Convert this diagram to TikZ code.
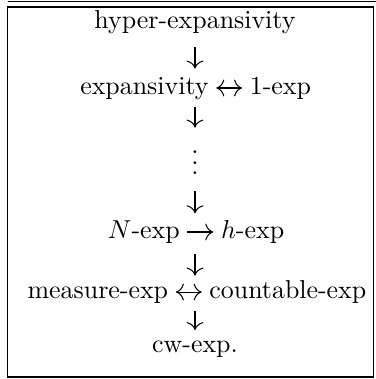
\documentclass[tikz,border=0pt]{standalone}
\usepackage{tikz}
\usetikzlibrary{arrows.meta, positioning}
\tikzset{
  row/.style={inner sep=0pt, text height=6.94pt, text depth=1.94pt},
  varr/.style={-{To[scale=1.25]}, line width=0.4pt},
  rarr/.style={-{To[scale=1.25]}, line width=0.4pt, shorten <=2.78pt, shorten >=2.78pt},
  lrarr/.style={{To[scale=1.25]}-{To[scale=1.25]}, line width=0.4pt, shorten <=2.78pt, shorten >=2.78pt},
  frame/.style={line width=0.5pt, color=black}
}

\begin{document}
\begin{tikzpicture}
  \useasboundingbox (0,0) rectangle (5.102,5.143);

  % Frame
  \draw[frame] (0.102,5.122) -- (5.102,5.122);
  \draw[frame] (0.102,0.027) rectangle (5.068,5.048);

  % Rows
  \node[row] (hyper) at (2.646,4.844) {hyper-expansivity};

  \node[row, anchor=west] (exp) at ([xshift=-44.48pt]2.646,3.949) {expansivity};
  \node[row, right=15.56pt of exp] (oneexp) {1-exp};
  \draw[lrarr] (exp) -- (oneexp);

  \node[anchor=south, inner sep=0pt] (dots) at (2.646,2.768) {$\vdots$};

  \node[row, anchor=west] (nexp) at ([xshift=-33.83pt]2.646,1.995) {$N$-exp};
  \node[row, right=15.56pt of nexp] (hexp) {$h$-exp};
  \draw[rarr] (nexp) -- (hexp);

  \node[row, anchor=west] (meas) at ([xshift=-64.82pt]2.646,1.180) {measure-exp};
  \node[row, right=15.56pt of meas] (count) {countable-exp};
  \draw[lrarr] (meas) -- (count);

  \node[row] (cw) at (2.646,0.45) {cw-exp.};

  % Downward implications
  \draw[varr, shorten <=1.8mm, shorten >=1.0mm] (hyper) -- (hyper |- exp.north);
  \draw[varr, shorten <=0.9mm, shorten >=1.0mm] (exp.south -| dots) -- (dots);
  \draw[varr, shorten <=2.2mm, shorten >=0.9mm] (dots) -- (dots |- nexp.north);
  \draw[varr, shorten <=1.3mm, shorten >=0.6mm] (nexp.south -| cw) -- (cw |- meas.north);
  \draw[varr, shorten <=0.9mm, shorten >=0.5mm] (meas.south -| cw) -- (cw);
\end{tikzpicture}
\end{document}
